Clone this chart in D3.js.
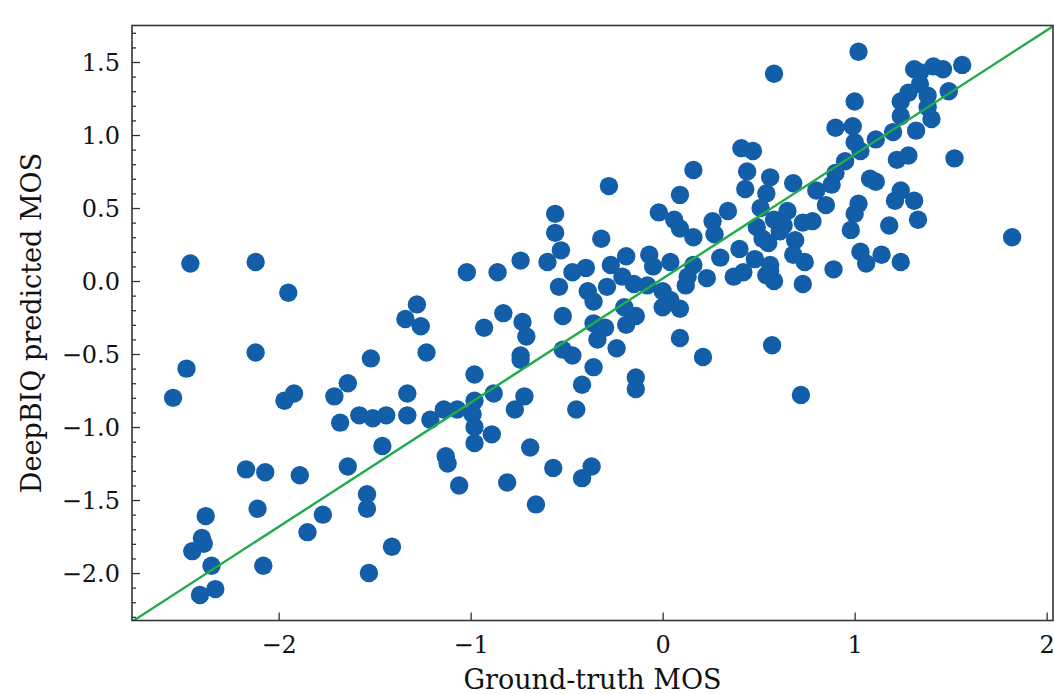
<!DOCTYPE html>
<html>
<head>
<meta charset="utf-8">
<script src="https://cdn.jsdelivr.net/npm/d3@7"></script>
<style>
    body { margin: 0; background: #fff; }
    svg { display: block; }
</style>
</head>
<body>
<div id="main"></div>
<script>
// ground-truth MOS (x) and DeepBIQ predicted MOS (y)
const gtMOS = [
    -2.46, -2.12, -1.95, -1.28, -1.34, -1.26, -1.23, -2.12, -2.48, -2.55,
    -1.52, -1.64, -1.71, -1.97, -1.92, -1.33, -1.68, -1.58, -1.51, -1.44,
    -1.33, -1.21, -1.14, -1.46, -2.17, -2.07, -1.89, -1.64, -1.54, -1.54,
    -2.11, -1.77, -2.38, -1.85, -2.40, -2.39, -2.45, -2.35, -2.08, -1.41,
    -1.53, -2.41, -2.33,
    -1.07, -0.98, -0.99, -0.98, -0.98, -0.89, -0.69, -1.13, -1.12, -0.57,
    -0.37, -0.42, -1.06, -0.81, -0.66, -0.98, -0.36, -0.42, -0.14, -0.14,
    -0.88, -0.72, -0.77, -0.45,
    -0.28, -0.56, -0.56, -0.53, -0.02, -0.32, -1.02, -0.86, -0.74, -0.60,
    -0.47, -0.40, -0.27, -0.19, -0.07, -0.54, -0.39, -0.36, -0.29, -0.21,
    -0.15, -0.08, -0.05, 0.00, -0.93, -0.83, -0.73, -0.71, -0.74, -0.74,
    -0.52, -0.36, -0.30, -0.34, -0.24, -0.20, -0.14, -0.19, -0.52, -0.47,
    0.09, 0.21, 0.57,
    0.41, 0.47, 0.16, 0.44, 0.43, 0.56, 0.68, 0.09, 0.54, 0.51, 0.34,
    0.65, 0.06, 0.09, 0.16, 0.26, 0.27, 0.49, 0.58, 0.61, 0.69, 0.55,
    0.04, 0.16, 0.13, 0.23, 0.30, 0.40, 0.37, 0.48, 0.56, 0.58, 0.68,
    0.04, 0.09, 0.00, 0.12, 0.42, 0.74, 0.73, 0.89, 0.72,
    0.52, 0.63, 0.56, 0.54,
    1.02, 0.58, 1.31, 1.34, 1.41, 1.46, 1.56, 1.28, 1.34, 1.38, 1.24, 1.49, 1.38, 1.40, 1.24,
    1.00, 1.32, 1.20, 1.11, 0.90, 0.99, 1.00, 1.03, 0.95, 0.90, 0.88, 0.80, 0.85, 0.78, 0.73,
    1.08, 1.11, 1.22, 1.28, 1.52, 1.21, 1.24, 1.31, 1.33, 1.02, 1.00, 0.98, 1.18, 1.03, 1.06, 1.14, 1.24, 1.82
];
const predMOS = [
    0.12, 0.13, -0.08, -0.16, -0.26, -0.31, -0.49, -0.49, -0.60, -0.80,
    -0.53, -0.70, -0.79, -0.82, -0.77, -0.77, -0.97, -0.92, -0.94, -0.92,
    -0.92, -0.95, -0.88, -1.13, -1.29, -1.31, -1.33, -1.27, -1.46, -1.56,
    -1.56, -1.60, -1.61, -1.72, -1.76, -1.80, -1.85, -1.95, -1.95, -1.82,
    -2.00, -2.15, -2.11,
    -0.88, -0.82, -0.91, -1.00, -1.11, -1.05, -1.14, -1.20, -1.25, -1.28,
    -1.27, -1.35, -1.40, -1.38, -1.53, -0.64, -0.59, -0.71, -0.66, -0.74,
    -0.77, -0.79, -0.88, -0.88,
    0.65, 0.46, 0.33, 0.21, 0.47, 0.29, 0.06, 0.06, 0.14, 0.13,
    0.06, 0.09, 0.11, 0.17, 0.18, -0.04, -0.07, -0.14, -0.04, 0.03,
    -0.02, -0.03, 0.10, -0.07, -0.32, -0.22, -0.28, -0.38, -0.51, -0.54,
    -0.24, -0.29, -0.32, -0.40, -0.46, -0.18, -0.24, -0.30, -0.47, -0.51,
    -0.39, -0.52, -0.44,
    0.91, 0.89, 0.76, 0.75, 0.63, 0.71, 0.67, 0.59, 0.60, 0.50, 0.48,
    0.48, 0.42, 0.36, 0.30, 0.41, 0.32, 0.37, 0.42, 0.34, 0.28, 0.26,
    0.13, 0.11, 0.03, 0.02, 0.16, 0.22, 0.03, 0.15, 0.07, 0.00, 0.18,
    -0.13, -0.19, -0.18, -0.03, 0.06, 0.13, -0.02, 0.08, -0.78,
    0.29, 0.38, 0.11, 0.04,
    1.57, 1.42, 1.45, 1.43, 1.47, 1.45, 1.48, 1.29, 1.35, 1.27, 1.23, 1.30, 1.19, 1.11, 1.13,
    1.23, 1.03, 1.02, 0.97, 1.05, 1.06, 0.95, 0.89, 0.82, 0.74, 0.66, 0.62, 0.52, 0.41, 0.40,
    0.70, 0.68, 0.83, 0.86, 0.84, 0.55, 0.62, 0.55, 0.42, 0.53, 0.46, 0.35, 0.38, 0.20, 0.12, 0.18, 0.13, 0.30
];

// fitted line (slope, intercept)
const fitLine = [0.85, 0.017];

const xTicks = [-2, -1, 0, 1, 2];
const yTicks = [-2.0, -1.5, -1.0, -0.5, 0.0, 0.5, 1.0, 1.5];
const xDomain = [-2.764, 2.033];
const yDomain = [-2.325, 1.750];

const ctx = {
    W: 1054,
    H: 694,
    margin: {top: 25.5, right: 1, bottom: 73.5, left: 132},
    font: "DejaVu Serif",
    dotColor: "#125ea9",
    lineColor: "#22ab4a"
};
ctx.width = ctx.W - ctx.margin.left - ctx.margin.right;
ctx.height = ctx.H - ctx.margin.top - ctx.margin.bottom;

function createViz() {
    const svg = d3.select("#main").append("svg")
        .attr("width", ctx.W)
        .attr("height", ctx.H);

    const g = svg.append("g")
        .attr("transform", `translate(${ctx.margin.left},${ctx.margin.top})`);

    const x = d3.scaleLinear().domain(xDomain).range([0, ctx.width]);
    const y = d3.scaleLinear().domain(yDomain).range([ctx.height, 0]);

    g.append("clipPath").attr("id", "plot-clip")
        .append("rect")
        .attr("width", ctx.width)
        .attr("height", ctx.height);

    const fmt = v => d3.format(".1f")(v).replace("-", "\u2212");

    // minor y ticks every 0.1
    const minor = d3.range(-23, 18).map(d => d / 10)
        .filter(d => Math.abs(d * 2 - Math.round(d * 2)) > 1e-6);

    const yMinor = g.append("g")
        .call(d3.axisLeft(y).tickValues(minor).tickSize(-4).tickFormat(""));
    yMinor.select(".domain").remove();

    const yAxis = g.append("g")
        .call(d3.axisLeft(y).tickValues(yTicks).tickSize(-8).tickPadding(12).tickFormat(fmt));
    yAxis.select(".domain").remove();
    yAxis.selectAll("text")
        .attr("dy", "0.36em")
        .style("font-family", ctx.font)
        .style("font-size", "24px")
        .style("fill", "#111");

    const xAxis = g.append("g")
        .attr("transform", `translate(0,${ctx.height})`)
        .call(d3.axisBottom(x).tickValues(xTicks).tickSize(-8).tickPadding(15)
            .tickFormat(d => d3.format("d")(d).replace("-", "\u2212")));
    xAxis.select(".domain").remove();
    xAxis.selectAll("text")
        .style("font-family", ctx.font)
        .style("font-size", "24px")
        .style("fill", "#111");

    svg.selectAll(".tick line").attr("stroke", "#333").attr("stroke-width", 1.3);

    const plot = g.append("g").attr("clip-path", "url(#plot-clip)");

    plot.selectAll("circle")
        .data(d3.zip(gtMOS, predMOS))
        .enter()
        .append("circle")
        .attr("cx", d => x(d[0]))
        .attr("cy", d => y(d[1]))
        .attr("r", 9.2)
        .style("fill", ctx.dotColor);

    plot.append("line")
        .attr("x1", x(xDomain[0]))
        .attr("y1", y(fitLine[0] * xDomain[0] + fitLine[1]))
        .attr("x2", x(xDomain[1]))
        .attr("y2", y(fitLine[0] * xDomain[1] + fitLine[1]))
        .attr("stroke", ctx.lineColor)
        .attr("stroke-width", 2.4);

    // frame
    g.append("rect")
        .attr("width", ctx.width)
        .attr("height", ctx.height)
        .attr("fill", "none")
        .attr("stroke", "#333")
        .attr("stroke-width", 1.6);

    g.append("text")
        .attr("x", ctx.width / 2)
        .attr("y", ctx.height + 68.5)
        .attr("text-anchor", "middle")
        .style("font-family", ctx.font)
        .style("font-size", "27px")
        .style("fill", "#111")
        .text("Ground-truth MOS");

    g.append("text")
        .attr("transform", `translate(${41 - ctx.margin.left},${ctx.height / 2}) rotate(-90)`)
        .attr("text-anchor", "middle")
        .style("font-family", ctx.font)
        .style("font-size", "27px")
        .style("fill", "#111")
        .text("DeepBIQ predicted MOS");
}

createViz();
</script>
</body>
</html>
